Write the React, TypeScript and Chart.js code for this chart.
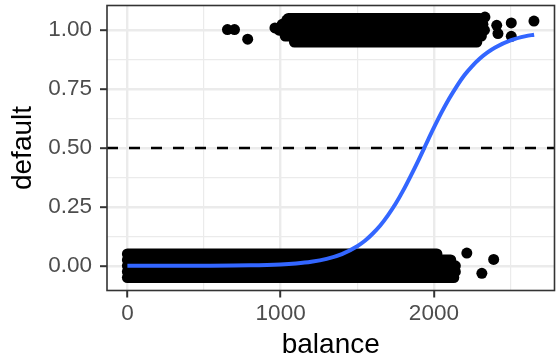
import React, { useEffect, useRef } from "react";
import { Chart, registerables } from "chart.js";

Chart.register(...registerables);

// Axis ranges and ticks
const xRange = [-133, 2787];
const yRange = [-0.105, 1.105];
const xTicks = [0, 500, 1000, 1500, 2000, 2500];
const xMajor = [0, 1000, 2000];
const yTicks = [0, 0.125, 0.25, 0.375, 0.5, 0.625, 0.75, 0.875, 1];
const yMajor = [0, 0.25, 0.5, 0.75, 1];

// Fitted logistic curve
const curveX = [0, 500, 800, 1000, 1100, 1200, 1300, 1400, 1500, 1550, 1600, 1650, 1700, 1750, 1800, 1850, 1900, 1950, 2000, 2050, 2100, 2150, 2200, 2250, 2300, 2350, 2400, 2500, 2600, 2654];
const curveY = [0.0, 0.0004, 0.0019, 0.0058, 0.01, 0.0171, 0.0294, 0.0498, 0.0832, 0.106, 0.136, 0.171, 0.214, 0.263, 0.32, 0.383, 0.449, 0.518, 0.586, 0.651, 0.71, 0.763, 0.81, 0.848, 0.88, 0.906, 0.927, 0.957, 0.975, 0.981];

// Threshold line
const thresholdY = 0.5;

// Dense bands of jittered points (default = No / Yes): row level, start, end
const bandNoY = [0.05, 0.025, 0, -0.025, -0.05];
const bandNoStart = [0, 0, 0, 0, 0];
const bandNoEnd = [2020, 2110, 2140, 2140, 2130];
const bandYesY = [1.05, 1.025, 1.0, 0.975, 0.95];
const bandYesStart = [1050, 1010, 990, 1030, 1090];
const bandYesEnd = [2300, 2320, 2330, 2310, 2280];

// Isolated jittered points
const pointsX = [653, 699, 785, 963, 1040, 1036, 1118, 2333, 2410, 2418, 2505, 2505, 2653, 2215, 2313, 2390];
const pointsY = [1.003, 1.003, 0.962, 1.01, 1.043, 0.993, 0.958, 1.056, 1.021, 0.986, 1.031, 0.974, 1.039, 0.054, -0.032, 0.027];

const FONT = "'Liberation Sans', Arial, Helvetica, sans-serif";
const POINT_R = 5.5;

export default function App() {
  const ref = useRef<HTMLCanvasElement | null>(null);

  useEffect(() => {
    if (!ref.current) return;

    const bandSets: any[] = [];
    bandNoY.forEach((y, i) => {
      bandSets.push({
        type: "line",
        data: [
          { x: bandNoStart[i], y },
          { x: bandNoEnd[i], y },
        ],
        borderColor: "#000000",
        borderWidth: POINT_R * 2,
        borderCapStyle: "round",
        pointRadius: 0,
        order: 3,
      });
    });
    bandYesY.forEach((y, i) => {
      bandSets.push({
        type: "line",
        data: [
          { x: bandYesStart[i], y },
          { x: bandYesEnd[i], y },
        ],
        borderColor: "#000000",
        borderWidth: POINT_R * 2,
        borderCapStyle: "round",
        pointRadius: 0,
        order: 3,
      });
    });

    const borderPlugin = {
      id: "panelBorder",
      afterDraw(chart: any) {
        const { ctx, chartArea } = chart;
        ctx.save();
        ctx.strokeStyle = "#333333";
        ctx.lineWidth = 1.6;
        ctx.strokeRect(chartArea.left, chartArea.top, chartArea.right - chartArea.left, chartArea.bottom - chartArea.top);
        ctx.restore();
      },
    };

    const chart = new Chart(ref.current, {
      type: "line",
      data: {
        datasets: [
          {
            type: "line",
            data: curveX.map((x, i) => ({ x, y: curveY[i] })),
            borderColor: "#3366FF",
            borderWidth: 4,
            pointRadius: 0,
            cubicInterpolationMode: "monotone",
            order: 0,
          } as any,
          {
            type: "line",
            data: [
              { x: xRange[0], y: thresholdY },
              { x: xRange[1], y: thresholdY },
            ],
            borderColor: "#000000",
            borderWidth: 2.5,
            borderDash: [11, 11],
            pointRadius: 0,
            order: 1,
          } as any,
          {
            type: "line",
            data: pointsX.map((x, i) => ({ x, y: pointsY[i] })),
            showLine: false,
            pointRadius: POINT_R,
            pointBackgroundColor: "#000000",
            pointBorderWidth: 0,
            borderColor: "#000000",
            order: 2,
          } as any,
          ...bandSets,
        ],
      },
      options: {
        animation: false,
        responsive: false,
        devicePixelRatio: 1,
        layout: { padding: { top: 5.5, right: 1.5, left: 0, bottom: 0 } },
        plugins: { legend: { display: false }, tooltip: { enabled: false } },
        scales: {
          x: {
            type: "linear",
            min: xRange[0],
            max: xRange[1],
            afterBuildTicks: (s: any) => {
              s.ticks = xTicks.map((value) => ({ value }));
            },
            afterFit: (s: any) => {
              s.height = 69.5;
              s.paddingLeft = 0;
              s.paddingRight = 0;
              s.paddingTop = 0;
              s.paddingBottom = 0;
            },
            border: { display: false },
            grid: {
              color: "#EBEBEB",
              lineWidth: (c: any) => (xMajor.includes(c.tick?.value) ? 2.4 : 1.2),
              tickColor: (c: any) => (xMajor.includes(c.tick?.value) ? "#333333" : "rgba(0,0,0,0)"),
              tickLength: 7,
              tickWidth: 2,
            },
            ticks: {
              autoSkip: false,
              maxRotation: 0,
              padding: 3,
              color: "#4D4D4D",
              font: { family: FONT, size: 22.5, lineHeight: 1.2 },
              callback: (v: any) => (xMajor.includes(Number(v)) ? String(v) : ""),
            },
            title: {
              display: true,
              text: "balance",
              color: "#000000",
              font: { family: FONT, size: 28, lineHeight: 1 },
              padding: { top: 0, bottom: 1 },
            },
          },
          y: {
            type: "linear",
            min: yRange[0],
            max: yRange[1],
            afterBuildTicks: (s: any) => {
              s.ticks = yTicks.map((value) => ({ value }));
            },
            afterFit: (s: any) => {
              s.width = 107;
              s.paddingLeft = 0;
              s.paddingRight = 0;
              s.paddingTop = 0;
              s.paddingBottom = 0;
            },
            border: { display: false },
            grid: {
              color: "#EBEBEB",
              lineWidth: (c: any) => (yMajor.includes(c.tick?.value) ? 2.4 : 1.2),
              tickColor: (c: any) => (yMajor.includes(c.tick?.value) ? "#333333" : "rgba(0,0,0,0)"),
              tickLength: 7,
              tickWidth: 2,
            },
            ticks: {
              autoSkip: false,
              padding: 8,
              color: "#4D4D4D",
              font: { family: FONT, size: 22.5, lineHeight: 1.2 },
              callback: (v: any) => (yMajor.includes(Number(v)) ? Number(v).toFixed(2) : ""),
            },
            title: {
              display: true,
              text: "default",
              color: "#000000",
              font: { family: FONT, size: 28, lineHeight: 1 },
              padding: { top: 9.5, bottom: 0 },
            },
          },
        },
      },
      plugins: [borderPlugin],
    } as any);

    return () => chart.destroy();
  }, []);

  return (
    <canvas
      ref={ref}
      width={560}
      height={360}
      style={{ position: "fixed", left: 0, top: 0, width: 560, height: 360 }}
    />
  );
}
